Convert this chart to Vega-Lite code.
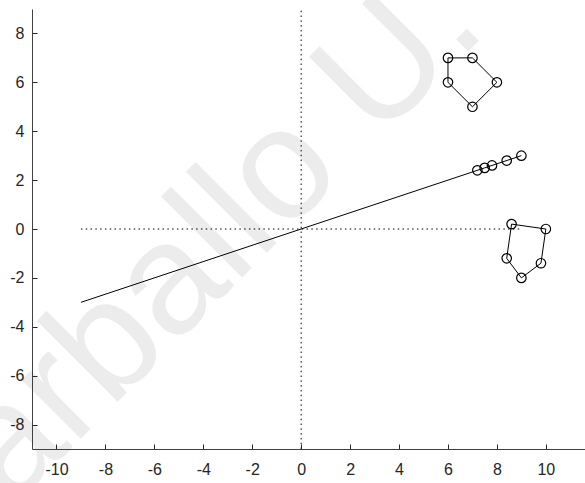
{
  "$schema": "https://vega.github.io/schema/vega-lite/v6.json",
  "width": 553,
  "height": 440,
  "autosize": {"type": "none"},
  "padding": {"left": 32, "top": 9, "right": 0, "bottom": 34},
  "background": "white",
  "config": {
    "view": {"stroke": null},
    "axis": {
      "grid": false,
      "domainColor": "#404040",
      "domainWidth": 1,
      "tickColor": "#262626",
      "tickSize": -5,
      "labelColor": "#262626",
      "labelFont": "Liberation Sans",
      "labelFontSize": 16,
      "labelExpr": "'' + datum.value",
      "title": null
    }
  },
  "datasets": {
    "mark": [{"x": -5.1, "y": -1.95, "t": "Carballo U."}],
    "dots": [
      {"g": "h", "o": 1, "x": -9, "y": 0},
      {"g": "h", "o": 2, "x": 9, "y": 0},
      {"g": "v", "o": 1, "x": 0, "y": -9},
      {"g": "v", "o": 2, "x": 0, "y": 9}
    ],
    "lines": [
      {"g": "m", "o": 1, "x": -9, "y": -3},
      {"g": "m", "o": 2, "x": 9, "y": 3},
      {"g": "p1", "o": 1, "x": 6, "y": 7},
      {"g": "p1", "o": 2, "x": 7, "y": 7},
      {"g": "p1", "o": 3, "x": 8, "y": 6},
      {"g": "p1", "o": 4, "x": 7, "y": 5},
      {"g": "p1", "o": 5, "x": 6, "y": 6},
      {"g": "p1", "o": 6, "x": 6, "y": 7},
      {"g": "p2", "o": 1, "x": 8.6, "y": 0.2},
      {"g": "p2", "o": 2, "x": 10, "y": 0},
      {"g": "p2", "o": 3, "x": 9.8, "y": -1.4},
      {"g": "p2", "o": 4, "x": 9, "y": -2},
      {"g": "p2", "o": 5, "x": 8.4, "y": -1.2},
      {"g": "p2", "o": 6, "x": 8.6, "y": 0.2}
    ],
    "pts": [
      {"x": 7.2, "y": 2.4}, {"x": 7.5, "y": 2.5}, {"x": 7.8, "y": 2.6}, {"x": 8.4, "y": 2.8}, {"x": 9, "y": 3},
      {"x": 6, "y": 7}, {"x": 7, "y": 7}, {"x": 8, "y": 6}, {"x": 7, "y": 5}, {"x": 6, "y": 6},
      {"x": 8.6, "y": 0.2}, {"x": 10, "y": 0}, {"x": 9.8, "y": -1.4}, {"x": 9, "y": -2}, {"x": 8.4, "y": -1.2}
    ]
  },
  "encoding": {
    "x": {"field": "x", "type": "quantitative",
      "scale": {"domain": [-11, 11.6], "nice": false, "zero": false},
      "axis": {"values": [-10, -8, -6, -4, -2, 0, 2, 4, 6, 8, 10], "labelPadding": 17, "zindex": 2}},
    "y": {"field": "y", "type": "quantitative",
      "scale": {"domain": [-9, 9], "nice": false, "zero": false},
      "axis": {"values": [-8, -6, -4, -2, 0, 2, 4, 6, 8], "labelPadding": 13, "zindex": 2}}
  },
  "layer": [
    {
      "data": {"name": "mark"},
      "mark": {"type": "text", "angle": -45, "fontSize": 158, "font": "Liberation Sans", "color": "#ececec", "align": "center", "baseline": "middle"},
      "encoding": {"text": {"field": "t"}}
    },
    {
      "data": {"name": "dots"},
      "mark": {"type": "line", "color": "black", "strokeWidth": 1, "strokeDash": [1.5, 3.3]},
      "encoding": {"detail": {"field": "g"}, "order": {"field": "o"}}
    },
    {
      "data": {"name": "lines"},
      "mark": {"type": "line", "color": "black", "strokeWidth": 1},
      "encoding": {"detail": {"field": "g"}, "order": {"field": "o"}}
    },
    {
      "data": {"name": "pts"},
      "mark": {"type": "point", "shape": "circle", "filled": false, "color": "black", "strokeWidth": 1.2, "size": 90, "opacity": 1},
      "encoding": {}
    }
  ]
}
